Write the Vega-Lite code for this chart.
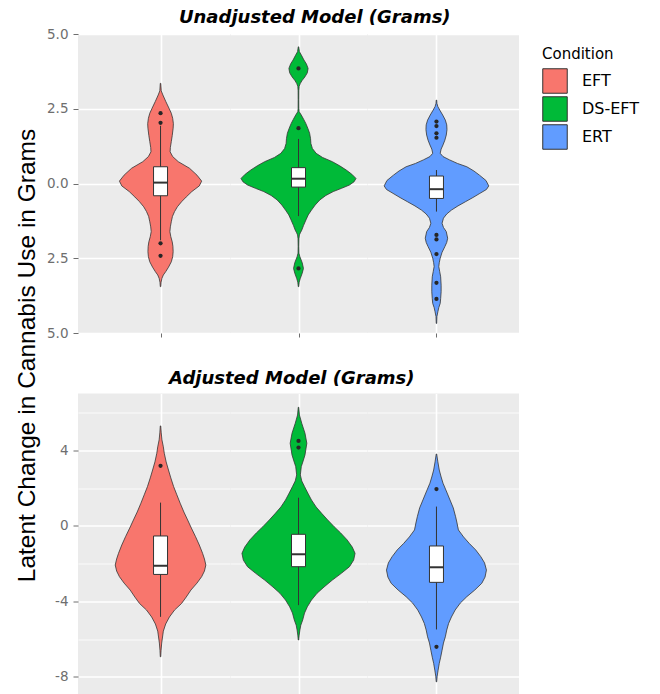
{
  "$schema": "https://vega.github.io/schema/vega-lite/v6.json",
  "background": "white",
  "padding": {"left": 15, "top": 9, "right": 0, "bottom": 0},
  "title": {"text": "Latent Change in Cannabis Use in Grams", "orient": "left", "anchor": "middle", "fontSize": 24.5, "fontWeight": "normal", "fontStyle": "normal", "font": "Liberation Sans", "color": "black", "offset": 6},
  "config": {
    "font": "Liberation Sans",
    "view": {"fill": "#EBEBEB", "stroke": null},
    "axis": {"gridColor": "white", "labelColor": "#6e6e6e", "labelFontSize": 13.5, "labelFont": "DejaVu Sans", "tickColor": "#6e6e6e", "tickSize": 5, "labelPadding": 5, "domain": false},
    "title": {"font": "DejaVu Sans", "fontSize": 18, "fontWeight": "bold", "fontStyle": "italic", "color": "black"},
    "legend": {"symbolType": "square", "symbolSize": 600, "symbolStrokeColor": "#333333", "symbolStrokeWidth": 1, "labelFontSize": 16, "titleFontSize": 15, "titleFontWeight": "normal", "labelFont": "DejaVu Sans", "titleFont": "DejaVu Sans", "labelOffset": 14, "rowPadding": 3, "titlePadding": 6, "labelColor": "black", "titleColor": "black"}
  },
  "datasets": {
    "violin": [
      {"model":"U","condition":"EFT","value":3.35,"density":0.005},
      {"model":"U","condition":"EFT","value":3.10,"density":0.015},
      {"model":"U","condition":"EFT","value":2.96,"density":0.05},
      {"model":"U","condition":"EFT","value":2.75,"density":0.11},
      {"model":"U","condition":"EFT","value":2.52,"density":0.18},
      {"model":"U","condition":"EFT","value":2.35,"density":0.23},
      {"model":"U","condition":"EFT","value":2.18,"density":0.26},
      {"model":"U","condition":"EFT","value":2.00,"density":0.275},
      {"model":"U","condition":"EFT","value":1.85,"density":0.27},
      {"model":"U","condition":"EFT","value":1.60,"density":0.25},
      {"model":"U","condition":"EFT","value":1.40,"density":0.23},
      {"model":"U","condition":"EFT","value":1.20,"density":0.21},
      {"model":"U","condition":"EFT","value":1.06,"density":0.205},
      {"model":"U","condition":"EFT","value":0.90,"density":0.26},
      {"model":"U","condition":"EFT","value":0.73,"density":0.38},
      {"model":"U","condition":"EFT","value":0.51,"density":0.62},
      {"model":"U","condition":"EFT","value":0.28,"density":0.78},
      {"model":"U","condition":"EFT","value":0.08,"density":0.88},
      {"model":"U","condition":"EFT","value":-0.08,"density":0.83},
      {"model":"U","condition":"EFT","value":-0.27,"density":0.67},
      {"model":"U","condition":"EFT","value":-0.45,"density":0.55},
      {"model":"U","condition":"EFT","value":-0.61,"density":0.45},
      {"model":"U","condition":"EFT","value":-0.78,"density":0.36},
      {"model":"U","condition":"EFT","value":-0.94,"density":0.30},
      {"model":"U","condition":"EFT","value":-1.10,"density":0.255},
      {"model":"U","condition":"EFT","value":-1.28,"density":0.23},
      {"model":"U","condition":"EFT","value":-1.45,"density":0.21},
      {"model":"U","condition":"EFT","value":-1.61,"density":0.20},
      {"model":"U","condition":"EFT","value":-1.78,"density":0.22},
      {"model":"U","condition":"EFT","value":-1.95,"density":0.25},
      {"model":"U","condition":"EFT","value":-2.10,"density":0.265},
      {"model":"U","condition":"EFT","value":-2.28,"density":0.27},
      {"model":"U","condition":"EFT","value":-2.45,"density":0.26},
      {"model":"U","condition":"EFT","value":-2.62,"density":0.23},
      {"model":"U","condition":"EFT","value":-2.80,"density":0.17},
      {"model":"U","condition":"EFT","value":-2.95,"density":0.11},
      {"model":"U","condition":"EFT","value":-3.06,"density":0.06},
      {"model":"U","condition":"EFT","value":-3.17,"density":0.03},
      {"model":"U","condition":"EFT","value":-3.30,"density":0.012},
      {"model":"U","condition":"EFT","value":-3.45,"density":0.005},

      {"model":"U","condition":"DS-EFT","value":4.57,"density":0.005},
      {"model":"U","condition":"DS-EFT","value":4.41,"density":0.02},
      {"model":"U","condition":"DS-EFT","value":4.27,"density":0.07},
      {"model":"U","condition":"DS-EFT","value":4.13,"density":0.117},
      {"model":"U","condition":"DS-EFT","value":4.00,"density":0.17},
      {"model":"U","condition":"DS-EFT","value":3.85,"density":0.207},
      {"model":"U","condition":"DS-EFT","value":3.70,"density":0.19},
      {"model":"U","condition":"DS-EFT","value":3.57,"density":0.14},
      {"model":"U","condition":"DS-EFT","value":3.45,"density":0.08},
      {"model":"U","condition":"DS-EFT","value":3.35,"density":0.04},
      {"model":"U","condition":"DS-EFT","value":3.25,"density":0.015},
      {"model":"U","condition":"DS-EFT","value":3.10,"density":0.008},
      {"model":"U","condition":"DS-EFT","value":2.80,"density":0.007},
      {"model":"U","condition":"DS-EFT","value":2.50,"density":0.008},
      {"model":"U","condition":"DS-EFT","value":2.40,"density":0.015},
      {"model":"U","condition":"DS-EFT","value":2.29,"density":0.06},
      {"model":"U","condition":"DS-EFT","value":2.15,"density":0.11},
      {"model":"U","condition":"DS-EFT","value":2.01,"density":0.157},
      {"model":"U","condition":"DS-EFT","value":1.85,"density":0.20},
      {"model":"U","condition":"DS-EFT","value":1.68,"density":0.24},
      {"model":"U","condition":"DS-EFT","value":1.50,"density":0.26},
      {"model":"U","condition":"DS-EFT","value":1.34,"density":0.267},
      {"model":"U","condition":"DS-EFT","value":1.17,"density":0.30},
      {"model":"U","condition":"DS-EFT","value":1.01,"density":0.38},
      {"model":"U","condition":"DS-EFT","value":0.87,"density":0.52},
      {"model":"U","condition":"DS-EFT","value":0.73,"density":0.73},
      {"model":"U","condition":"DS-EFT","value":0.59,"density":0.89},
      {"model":"U","condition":"DS-EFT","value":0.45,"density":1.03},
      {"model":"U","condition":"DS-EFT","value":0.31,"density":1.15},
      {"model":"U","condition":"DS-EFT","value":0.17,"density":1.24},
      {"model":"U","condition":"DS-EFT","value":0.06,"density":1.20},
      {"model":"U","condition":"DS-EFT","value":-0.05,"density":1.10},
      {"model":"U","condition":"DS-EFT","value":-0.16,"density":0.93},
      {"model":"U","condition":"DS-EFT","value":-0.27,"density":0.75},
      {"model":"U","condition":"DS-EFT","value":-0.40,"density":0.59},
      {"model":"U","condition":"DS-EFT","value":-0.55,"density":0.46},
      {"model":"U","condition":"DS-EFT","value":-0.72,"density":0.36},
      {"model":"U","condition":"DS-EFT","value":-0.89,"density":0.28},
      {"model":"U","condition":"DS-EFT","value":-1.05,"density":0.21},
      {"model":"U","condition":"DS-EFT","value":-1.22,"density":0.16},
      {"model":"U","condition":"DS-EFT","value":-1.40,"density":0.11},
      {"model":"U","condition":"DS-EFT","value":-1.56,"density":0.07},
      {"model":"U","condition":"DS-EFT","value":-1.65,"density":0.04},
      {"model":"U","condition":"DS-EFT","value":-1.72,"density":0.02},
      {"model":"U","condition":"DS-EFT","value":-1.85,"density":0.01},
      {"model":"U","condition":"DS-EFT","value":-2.10,"density":0.007},
      {"model":"U","condition":"DS-EFT","value":-2.33,"density":0.01},
      {"model":"U","condition":"DS-EFT","value":-2.45,"density":0.03},
      {"model":"U","condition":"DS-EFT","value":-2.65,"density":0.08},
      {"model":"U","condition":"DS-EFT","value":-2.84,"density":0.107},
      {"model":"U","condition":"DS-EFT","value":-3.00,"density":0.08},
      {"model":"U","condition":"DS-EFT","value":-3.17,"density":0.04},
      {"model":"U","condition":"DS-EFT","value":-3.30,"density":0.015},
      {"model":"U","condition":"DS-EFT","value":-3.45,"density":0.005},

      {"model":"U","condition":"ERT","value":2.79,"density":0.005},
      {"model":"U","condition":"ERT","value":2.68,"density":0.01},
      {"model":"U","condition":"ERT","value":2.57,"density":0.03},
      {"model":"U","condition":"ERT","value":2.43,"density":0.08},
      {"model":"U","condition":"ERT","value":2.29,"density":0.133},
      {"model":"U","condition":"ERT","value":2.12,"density":0.19},
      {"model":"U","condition":"ERT","value":1.96,"density":0.22},
      {"model":"U","condition":"ERT","value":1.80,"density":0.225},
      {"model":"U","condition":"ERT","value":1.62,"density":0.21},
      {"model":"U","condition":"ERT","value":1.45,"density":0.18},
      {"model":"U","condition":"ERT","value":1.29,"density":0.14},
      {"model":"U","condition":"ERT","value":1.15,"density":0.10},
      {"model":"U","condition":"ERT","value":1.01,"density":0.08},
      {"model":"U","condition":"ERT","value":0.90,"density":0.14},
      {"model":"U","condition":"ERT","value":0.79,"density":0.28},
      {"model":"U","condition":"ERT","value":0.67,"density":0.45},
      {"model":"U","condition":"ERT","value":0.56,"density":0.65},
      {"model":"U","condition":"ERT","value":0.42,"density":0.80},
      {"model":"U","condition":"ERT","value":0.28,"density":0.92},
      {"model":"U","condition":"ERT","value":0.10,"density":1.06},
      {"model":"U","condition":"ERT","value":-0.08,"density":1.12},
      {"model":"U","condition":"ERT","value":-0.20,"density":1.07},
      {"model":"U","condition":"ERT","value":-0.33,"density":0.93},
      {"model":"U","condition":"ERT","value":-0.47,"density":0.78},
      {"model":"U","condition":"ERT","value":-0.61,"density":0.62},
      {"model":"U","condition":"ERT","value":-0.75,"density":0.46},
      {"model":"U","condition":"ERT","value":-0.89,"density":0.32},
      {"model":"U","condition":"ERT","value":-1.02,"density":0.22},
      {"model":"U","condition":"ERT","value":-1.16,"density":0.15},
      {"model":"U","condition":"ERT","value":-1.33,"density":0.12},
      {"model":"U","condition":"ERT","value":-1.47,"density":0.15},
      {"model":"U","condition":"ERT","value":-1.61,"density":0.21},
      {"model":"U","condition":"ERT","value":-1.83,"density":0.24},
      {"model":"U","condition":"ERT","value":-1.97,"density":0.22},
      {"model":"U","condition":"ERT","value":-2.11,"density":0.18},
      {"model":"U","condition":"ERT","value":-2.30,"density":0.12},
      {"model":"U","condition":"ERT","value":-2.50,"density":0.08},
      {"model":"U","condition":"ERT","value":-2.65,"density":0.06},
      {"model":"U","condition":"ERT","value":-2.78,"density":0.05},
      {"model":"U","condition":"ERT","value":-2.95,"density":0.07},
      {"model":"U","condition":"ERT","value":-3.12,"density":0.09},
      {"model":"U","condition":"ERT","value":-3.40,"density":0.10},
      {"model":"U","condition":"ERT","value":-3.62,"density":0.10},
      {"model":"U","condition":"ERT","value":-3.85,"density":0.09},
      {"model":"U","condition":"ERT","value":-4.01,"density":0.08},
      {"model":"U","condition":"ERT","value":-4.15,"density":0.05},
      {"model":"U","condition":"ERT","value":-4.29,"density":0.03},
      {"model":"U","condition":"ERT","value":-4.45,"density":0.01},
      {"model":"U","condition":"ERT","value":-4.68,"density":0.005},

      {"model":"A","condition":"EFT","value":5.31,"density":0.005},
      {"model":"A","condition":"EFT","value":4.94,"density":0.015},
      {"model":"A","condition":"EFT","value":4.57,"density":0.03},
      {"model":"A","condition":"EFT","value":4.20,"density":0.06},
      {"model":"A","condition":"EFT","value":3.86,"density":0.08},
      {"model":"A","condition":"EFT","value":3.40,"density":0.12},
      {"model":"A","condition":"EFT","value":2.97,"density":0.17},
      {"model":"A","condition":"EFT","value":2.55,"density":0.22},
      {"model":"A","condition":"EFT","value":2.09,"density":0.28},
      {"model":"A","condition":"EFT","value":1.65,"density":0.35},
      {"model":"A","condition":"EFT","value":1.21,"density":0.42},
      {"model":"A","condition":"EFT","value":0.74,"density":0.50},
      {"model":"A","condition":"EFT","value":0.32,"density":0.58},
      {"model":"A","condition":"EFT","value":-0.11,"density":0.66},
      {"model":"A","condition":"EFT","value":-0.57,"density":0.75},
      {"model":"A","condition":"EFT","value":-1.01,"density":0.83},
      {"model":"A","condition":"EFT","value":-1.45,"density":0.90},
      {"model":"A","condition":"EFT","value":-1.75,"density":0.94},
      {"model":"A","condition":"EFT","value":-2.07,"density":0.97},
      {"model":"A","condition":"EFT","value":-2.39,"density":0.94},
      {"model":"A","condition":"EFT","value":-2.69,"density":0.88},
      {"model":"A","condition":"EFT","value":-3.03,"density":0.78},
      {"model":"A","condition":"EFT","value":-3.40,"density":0.65},
      {"model":"A","condition":"EFT","value":-3.77,"density":0.55},
      {"model":"A","condition":"EFT","value":-4.11,"density":0.45},
      {"model":"A","condition":"EFT","value":-4.46,"density":0.30},
      {"model":"A","condition":"EFT","value":-4.83,"density":0.19},
      {"model":"A","condition":"EFT","value":-5.20,"density":0.11},
      {"model":"A","condition":"EFT","value":-5.58,"density":0.06},
      {"model":"A","condition":"EFT","value":-6.21,"density":0.025},
      {"model":"A","condition":"EFT","value":-6.59,"density":0.012},
      {"model":"A","condition":"EFT","value":-6.94,"density":0.005},

      {"model":"A","condition":"DS-EFT","value":6.30,"density":0.005},
      {"model":"A","condition":"DS-EFT","value":5.89,"density":0.02},
      {"model":"A","condition":"DS-EFT","value":5.45,"density":0.07},
      {"model":"A","condition":"DS-EFT","value":4.92,"density":0.14},
      {"model":"A","condition":"DS-EFT","value":4.39,"density":0.18},
      {"model":"A","condition":"DS-EFT","value":3.77,"density":0.14},
      {"model":"A","condition":"DS-EFT","value":3.45,"density":0.10},
      {"model":"A","condition":"DS-EFT","value":3.15,"density":0.06},
      {"model":"A","condition":"DS-EFT","value":2.71,"density":0.04},
      {"model":"A","condition":"DS-EFT","value":2.39,"density":0.07},
      {"model":"A","condition":"DS-EFT","value":2.09,"density":0.13},
      {"model":"A","condition":"DS-EFT","value":1.75,"density":0.20},
      {"model":"A","condition":"DS-EFT","value":1.38,"density":0.28},
      {"model":"A","condition":"DS-EFT","value":1.01,"density":0.38},
      {"model":"A","condition":"DS-EFT","value":0.67,"density":0.50},
      {"model":"A","condition":"DS-EFT","value":0.32,"density":0.63},
      {"model":"A","condition":"DS-EFT","value":-0.04,"density":0.77},
      {"model":"A","condition":"DS-EFT","value":-0.37,"density":0.91},
      {"model":"A","condition":"DS-EFT","value":-0.74,"density":1.05},
      {"model":"A","condition":"DS-EFT","value":-1.12,"density":1.16},
      {"model":"A","condition":"DS-EFT","value":-1.45,"density":1.22},
      {"model":"A","condition":"DS-EFT","value":-1.81,"density":1.19},
      {"model":"A","condition":"DS-EFT","value":-2.16,"density":1.10},
      {"model":"A","condition":"DS-EFT","value":-2.50,"density":0.93},
      {"model":"A","condition":"DS-EFT","value":-2.87,"density":0.73},
      {"model":"A","condition":"DS-EFT","value":-3.24,"density":0.55},
      {"model":"A","condition":"DS-EFT","value":-3.57,"density":0.40},
      {"model":"A","condition":"DS-EFT","value":-3.93,"density":0.28},
      {"model":"A","condition":"DS-EFT","value":-4.29,"density":0.19},
      {"model":"A","condition":"DS-EFT","value":-4.62,"density":0.13},
      {"model":"A","condition":"DS-EFT","value":-4.99,"density":0.09},
      {"model":"A","condition":"DS-EFT","value":-5.26,"density":0.05},
      {"model":"A","condition":"DS-EFT","value":-5.52,"density":0.03},
      {"model":"A","condition":"DS-EFT","value":-5.79,"density":0.015},
      {"model":"A","condition":"DS-EFT","value":-6.05,"density":0.005},

      {"model":"A","condition":"ERT","value":3.82,"density":0.005},
      {"model":"A","condition":"ERT","value":3.40,"density":0.03},
      {"model":"A","condition":"ERT","value":2.97,"density":0.06},
      {"model":"A","condition":"ERT","value":2.60,"density":0.10},
      {"model":"A","condition":"ERT","value":2.27,"density":0.14},
      {"model":"A","condition":"ERT","value":1.86,"density":0.21},
      {"model":"A","condition":"ERT","value":1.38,"density":0.29},
      {"model":"A","condition":"ERT","value":0.96,"density":0.36},
      {"model":"A","condition":"ERT","value":0.49,"density":0.41},
      {"model":"A","condition":"ERT","value":0.16,"density":0.44},
      {"model":"A","condition":"ERT","value":-0.21,"density":0.47},
      {"model":"A","condition":"ERT","value":-0.58,"density":0.58},
      {"model":"A","condition":"ERT","value":-0.92,"density":0.70},
      {"model":"A","condition":"ERT","value":-1.27,"density":0.84},
      {"model":"A","condition":"ERT","value":-1.63,"density":0.95},
      {"model":"A","condition":"ERT","value":-1.96,"density":1.03},
      {"model":"A","condition":"ERT","value":-2.34,"density":1.07},
      {"model":"A","condition":"ERT","value":-2.71,"density":1.04},
      {"model":"A","condition":"ERT","value":-3.04,"density":0.97},
      {"model":"A","condition":"ERT","value":-3.40,"density":0.82},
      {"model":"A","condition":"ERT","value":-3.75,"density":0.65},
      {"model":"A","condition":"ERT","value":-4.09,"density":0.51},
      {"model":"A","condition":"ERT","value":-4.46,"density":0.40},
      {"model":"A","condition":"ERT","value":-4.83,"density":0.32},
      {"model":"A","condition":"ERT","value":-5.17,"density":0.26},
      {"model":"A","condition":"ERT","value":-5.52,"density":0.22},
      {"model":"A","condition":"ERT","value":-5.88,"density":0.19},
      {"model":"A","condition":"ERT","value":-6.21,"density":0.15},
      {"model":"A","condition":"ERT","value":-6.59,"density":0.12},
      {"model":"A","condition":"ERT","value":-6.96,"density":0.09},
      {"model":"A","condition":"ERT","value":-7.29,"density":0.06},
      {"model":"A","condition":"ERT","value":-7.65,"density":0.035},
      {"model":"A","condition":"ERT","value":-7.97,"density":0.015},
      {"model":"A","condition":"ERT","value":-8.27,"density":0.005}
    ],
    "box": [
      {"model":"U","condition":"EFT","lo":-1.9,"q1":-0.41,"median":0.03,"q3":0.56,"hi":1.93},
      {"model":"U","condition":"DS-EFT","lo":-1.09,"q1":-0.12,"median":0.16,"q3":0.53,"hi":1.49},
      {"model":"U","condition":"ERT","lo":-0.94,"q1":-0.5,"median":-0.19,"q3":0.25,"hi":0.45},
      {"model":"A","condition":"EFT","lo":-4.82,"q1":-2.57,"median":-2.11,"q3":-0.53,"hi":1.24},
      {"model":"A","condition":"DS-EFT","lo":-4.2,"q1":-2.16,"median":-1.5,"q3":-0.44,"hi":1.5},
      {"model":"A","condition":"ERT","lo":-5.49,"q1":-2.99,"median":-2.19,"q3":-1.06,"hi":1.03}
    ],
    "outliers": [
      {"model":"U","condition":"EFT","value":2.35},
      {"model":"U","condition":"EFT","value":2.03},
      {"model":"U","condition":"EFT","value":-2.0},
      {"model":"U","condition":"EFT","value":-2.42},
      {"model":"U","condition":"DS-EFT","value":3.85},
      {"model":"U","condition":"DS-EFT","value":1.85},
      {"model":"U","condition":"DS-EFT","value":-2.84},
      {"model":"U","condition":"ERT","value":2.07},
      {"model":"U","condition":"ERT","value":1.92},
      {"model":"U","condition":"ERT","value":1.68},
      {"model":"U","condition":"ERT","value":1.53},
      {"model":"U","condition":"ERT","value":-1.72},
      {"model":"U","condition":"ERT","value":-1.87},
      {"model":"U","condition":"ERT","value":-2.36},
      {"model":"U","condition":"ERT","value":-3.32},
      {"model":"U","condition":"ERT","value":-3.86},
      {"model":"A","condition":"EFT","value":3.19},
      {"model":"A","condition":"DS-EFT","value":4.51},
      {"model":"A","condition":"DS-EFT","value":4.16},
      {"model":"A","condition":"ERT","value":1.96},
      {"model":"A","condition":"ERT","value":-6.41}
    ]
  },
  "vconcat": [
    {
      "title": {"text": "Unadjusted Model (Grams)", "anchor": "middle", "dx": 32, "offset": 0},
      "spacing": 0,
      "bounds": "flush",
      "hconcat": [
        {
          "width": 152, "height": 299,
          "layer": [
            {"data": {"name": "violin"}, "transform": [{"filter": "datum.model === 'U' && datum.condition === 'EFT'"}],
             "mark": {"type": "area", "orient": "horizontal", "stroke": "#333333", "strokeWidth": 0.8, "opacity": 1},
             "encoding": {
               "y": {"field": "value", "type": "quantitative", "title": null, "scale": {"domain": [-5, 5], "nice": false, "zero": false},
                     "axis": {"values": [-5, -3.75, -2.5, -1.25, 0, 1.25, 2.5, 3.75, 5], "labelExpr": "datum.value % 2.5 === 0 ? format(abs(datum.value), '.1f') : ''", "gridWidth": {"condition": {"test": "datum.value % 2.5 === 0", "value": 1.6}, "value": 0.8}, "tickOpacity": {"condition": {"test": "datum.value % 2.5 === 0", "value": 1}, "value": 0}, "title": null}},
               "x": {"field": "density", "type": "quantitative", "stack": "center", "impute": null, "title": null, "scale": {"domain": [-0.39, 1.13], "nice": false, "zero": false},
                     "axis": {"values": [0.44], "labels": false, "grid": true, "gridWidth": 1.6, "tickSize": 4, "title": null}},
               "color": {"field": "condition", "type": "nominal", "title": "Condition", "scale": {"domain": ["EFT", "DS-EFT", "ERT"], "range": ["#F8766D", "#00BA38", "#619CFF"]}, "legend": {"orient": "none", "legendX": 464, "legendY": 13, "rowPadding": -2}}
             }},
            {"data": {"name": "box"}, "transform": [{"filter": "datum.model === 'U' && datum.condition === 'EFT'"}],
             "mark": {"type": "rule", "color": "#333333", "strokeWidth": 1},
             "encoding": {"x": {"datum": 0.44, "type": "quantitative", "title": null, "scale": {"domain": [-0.39, 1.13], "nice": false, "zero": false}}, "y": {"field": "lo", "type": "quantitative", "title": null, "scale": {"domain": [-5, 5], "nice": false, "zero": false}}, "y2": {"field": "hi"}}},
            {"data": {"name": "box"}, "transform": [{"filter": "datum.model === 'U' && datum.condition === 'EFT'"}],
             "mark": {"type": "bar", "fill": "white", "stroke": "#333333", "strokeWidth": 1, "size": 14},
             "encoding": {"x": {"datum": 0.44, "type": "quantitative", "title": null, "scale": {"domain": [-0.39, 1.13], "nice": false, "zero": false}}, "y": {"field": "q1", "type": "quantitative", "title": null, "scale": {"domain": [-5, 5], "nice": false, "zero": false}}, "y2": {"field": "q3"}}},
            {"data": {"name": "box"}, "transform": [{"filter": "datum.model === 'U' && datum.condition === 'EFT'"}],
             "mark": {"type": "tick", "orient": "horizontal", "color": "#333333", "size": 14, "thickness": 2, "opacity": 1},
             "encoding": {"x": {"datum": 0.44, "type": "quantitative", "title": null, "scale": {"domain": [-0.39, 1.13], "nice": false, "zero": false}}, "y": {"field": "median", "type": "quantitative", "title": null, "scale": {"domain": [-5, 5], "nice": false, "zero": false}}}},
            {"data": {"name": "outliers"}, "transform": [{"filter": "datum.model === 'U' && datum.condition === 'EFT'"}],
             "mark": {"type": "circle", "color": "#262626", "size": 18, "opacity": 1},
             "encoding": {"x": {"datum": 0.44, "type": "quantitative", "title": null, "scale": {"domain": [-0.39, 1.13], "nice": false, "zero": false}}, "y": {"field": "value", "type": "quantitative", "title": null, "scale": {"domain": [-5, 5], "nice": false, "zero": false}}}}
          ]
        },
        {
          "width": 137, "height": 299,
          "layer": [
            {"data": {"name": "violin"}, "transform": [{"filter": "datum.model === 'U' && datum.condition === 'DS-EFT'"}],
             "mark": {"type": "area", "orient": "horizontal", "stroke": "#333333", "strokeWidth": 0.8, "opacity": 1},
             "encoding": {
               "y": {"field": "value", "type": "quantitative", "title": null, "scale": {"domain": [-5, 5], "nice": false, "zero": false},
                     "axis": {"values": [-5, -3.75, -2.5, -1.25, 0, 1.25, 2.5, 3.75, 5], "labels": false, "ticks": false, "gridWidth": {"condition": {"test": "datum.value % 2.5 === 0", "value": 1.6}, "value": 0.8}, "title": null}},
               "x": {"field": "density", "type": "quantitative", "stack": "center", "impute": null, "title": null, "scale": {"domain": [-0.065, 1.305], "nice": false, "zero": false},
                     "axis": {"values": [0.62], "labels": false, "grid": true, "gridWidth": 1.6, "tickSize": 4, "title": null}},
               "color": {"field": "condition", "type": "nominal", "title": "Condition", "scale": {"domain": ["EFT", "DS-EFT", "ERT"], "range": ["#F8766D", "#00BA38", "#619CFF"]}, "legend": {"orient": "none", "legendX": 464, "legendY": 13, "rowPadding": -2}}
             }},
            {"data": {"name": "box"}, "transform": [{"filter": "datum.model === 'U' && datum.condition === 'DS-EFT'"}],
             "mark": {"type": "rule", "color": "#333333", "strokeWidth": 1},
             "encoding": {"x": {"datum": 0.62, "type": "quantitative", "title": null, "scale": {"domain": [-0.065, 1.305], "nice": false, "zero": false}}, "y": {"field": "lo", "type": "quantitative", "title": null, "scale": {"domain": [-5, 5], "nice": false, "zero": false}}, "y2": {"field": "hi"}}},
            {"data": {"name": "box"}, "transform": [{"filter": "datum.model === 'U' && datum.condition === 'DS-EFT'"}],
             "mark": {"type": "bar", "fill": "white", "stroke": "#333333", "strokeWidth": 1, "size": 14},
             "encoding": {"x": {"datum": 0.62, "type": "quantitative", "title": null, "scale": {"domain": [-0.065, 1.305], "nice": false, "zero": false}}, "y": {"field": "q1", "type": "quantitative", "title": null, "scale": {"domain": [-5, 5], "nice": false, "zero": false}}, "y2": {"field": "q3"}}},
            {"data": {"name": "box"}, "transform": [{"filter": "datum.model === 'U' && datum.condition === 'DS-EFT'"}],
             "mark": {"type": "tick", "orient": "horizontal", "color": "#333333", "size": 14, "thickness": 2, "opacity": 1},
             "encoding": {"x": {"datum": 0.62, "type": "quantitative", "title": null, "scale": {"domain": [-0.065, 1.305], "nice": false, "zero": false}}, "y": {"field": "median", "type": "quantitative", "title": null, "scale": {"domain": [-5, 5], "nice": false, "zero": false}}}},
            {"data": {"name": "outliers"}, "transform": [{"filter": "datum.model === 'U' && datum.condition === 'DS-EFT'"}],
             "mark": {"type": "circle", "color": "#262626", "size": 18, "opacity": 1},
             "encoding": {"x": {"datum": 0.62, "type": "quantitative", "title": null, "scale": {"domain": [-0.065, 1.305], "nice": false, "zero": false}}, "y": {"field": "value", "type": "quantitative", "title": null, "scale": {"domain": [-5, 5], "nice": false, "zero": false}}}}
          ]
        },
        {
          "width": 152, "height": 299,
          "layer": [
            {"data": {"name": "violin"}, "transform": [{"filter": "datum.model === 'U' && datum.condition === 'ERT'"}],
             "mark": {"type": "area", "orient": "horizontal", "stroke": "#333333", "strokeWidth": 0.8, "opacity": 1},
             "encoding": {
               "y": {"field": "value", "type": "quantitative", "title": null, "scale": {"domain": [-5, 5], "nice": false, "zero": false},
                     "axis": {"values": [-5, -3.75, -2.5, -1.25, 0, 1.25, 2.5, 3.75, 5], "labels": false, "ticks": false, "gridWidth": {"condition": {"test": "datum.value % 2.5 === 0", "value": 1.6}, "value": 0.8}, "title": null}},
               "x": {"field": "density", "type": "quantitative", "stack": "center", "impute": null, "title": null, "scale": {"domain": [-0.13, 1.39], "nice": false, "zero": false},
                     "axis": {"values": [0.56], "labels": false, "grid": true, "gridWidth": 1.6, "tickSize": 4, "title": null}},
               "color": {"field": "condition", "type": "nominal", "title": "Condition", "scale": {"domain": ["EFT", "DS-EFT", "ERT"], "range": ["#F8766D", "#00BA38", "#619CFF"]}, "legend": {"orient": "none", "legendX": 464, "legendY": 13, "rowPadding": -2}}
             }},
            {"data": {"name": "box"}, "transform": [{"filter": "datum.model === 'U' && datum.condition === 'ERT'"}],
             "mark": {"type": "rule", "color": "#333333", "strokeWidth": 1},
             "encoding": {"x": {"datum": 0.56, "type": "quantitative", "title": null, "scale": {"domain": [-0.13, 1.39], "nice": false, "zero": false}}, "y": {"field": "lo", "type": "quantitative", "title": null, "scale": {"domain": [-5, 5], "nice": false, "zero": false}}, "y2": {"field": "hi"}}},
            {"data": {"name": "box"}, "transform": [{"filter": "datum.model === 'U' && datum.condition === 'ERT'"}],
             "mark": {"type": "bar", "fill": "white", "stroke": "#333333", "strokeWidth": 1, "size": 14},
             "encoding": {"x": {"datum": 0.56, "type": "quantitative", "title": null, "scale": {"domain": [-0.13, 1.39], "nice": false, "zero": false}}, "y": {"field": "q1", "type": "quantitative", "title": null, "scale": {"domain": [-5, 5], "nice": false, "zero": false}}, "y2": {"field": "q3"}}},
            {"data": {"name": "box"}, "transform": [{"filter": "datum.model === 'U' && datum.condition === 'ERT'"}],
             "mark": {"type": "tick", "orient": "horizontal", "color": "#333333", "size": 14, "thickness": 2, "opacity": 1},
             "encoding": {"x": {"datum": 0.56, "type": "quantitative", "title": null, "scale": {"domain": [-0.13, 1.39], "nice": false, "zero": false}}, "y": {"field": "median", "type": "quantitative", "title": null, "scale": {"domain": [-5, 5], "nice": false, "zero": false}}}},
            {"data": {"name": "outliers"}, "transform": [{"filter": "datum.model === 'U' && datum.condition === 'ERT'"}],
             "mark": {"type": "circle", "color": "#262626", "size": 18, "opacity": 1},
             "encoding": {"x": {"datum": 0.56, "type": "quantitative", "title": null, "scale": {"domain": [-0.13, 1.39], "nice": false, "zero": false}}, "y": {"field": "value", "type": "quantitative", "title": null, "scale": {"domain": [-5, 5], "nice": false, "zero": false}}}}
          ]
        }
      ]
    },
    {
      "title": {"text": "Adjusted Model (Grams)", "anchor": "middle", "dx": 5, "offset": 6},
      "spacing": 0,
      "bounds": "flush",
      "hconcat": [
        {
          "width": 152, "height": 304,
          "layer": [
            {"data": {"name": "violin"}, "transform": [{"filter": "datum.model === 'A' && datum.condition === 'EFT'"}],
             "mark": {"type": "area", "orient": "horizontal", "stroke": "#333333", "strokeWidth": 0.8, "opacity": 1},
             "encoding": {
               "y": {"field": "value", "type": "quantitative", "title": null, "scale": {"domain": [-9.1, 7.03], "nice": false, "zero": false},
                     "axis": {"values": [-8, -6, -4, -2, 0, 2, 4, 6], "labelExpr": "datum.value % 4 === 0 ? '' + datum.value : ''", "gridWidth": {"condition": {"test": "datum.value % 4 === 0", "value": 1.6}, "value": 0.8}, "tickOpacity": {"condition": {"test": "datum.value % 4 === 0", "value": 1}, "value": 0}, "title": null}},
               "x": {"field": "density", "type": "quantitative", "stack": "center", "impute": null, "title": null, "scale": {"domain": [-0.345, 1.175], "nice": false, "zero": false},
                     "axis": {"values": [0.485], "labels": false, "grid": true, "gridWidth": 1.6, "tickSize": 4, "title": null}},
               "color": {"field": "condition", "type": "nominal", "title": "Condition", "scale": {"domain": ["EFT", "DS-EFT", "ERT"], "range": ["#F8766D", "#00BA38", "#619CFF"]}, "legend": {"orient": "none", "legendX": 464, "legendY": 13, "rowPadding": -2}}
             }},
            {"data": {"name": "box"}, "transform": [{"filter": "datum.model === 'A' && datum.condition === 'EFT'"}],
             "mark": {"type": "rule", "color": "#333333", "strokeWidth": 1},
             "encoding": {"x": {"datum": 0.485, "type": "quantitative", "title": null, "scale": {"domain": [-0.345, 1.175], "nice": false, "zero": false}}, "y": {"field": "lo", "type": "quantitative", "title": null, "scale": {"domain": [-9.1, 7.03], "nice": false, "zero": false}}, "y2": {"field": "hi"}}},
            {"data": {"name": "box"}, "transform": [{"filter": "datum.model === 'A' && datum.condition === 'EFT'"}],
             "mark": {"type": "bar", "fill": "white", "stroke": "#333333", "strokeWidth": 1, "size": 14},
             "encoding": {"x": {"datum": 0.485, "type": "quantitative", "title": null, "scale": {"domain": [-0.345, 1.175], "nice": false, "zero": false}}, "y": {"field": "q1", "type": "quantitative", "title": null, "scale": {"domain": [-9.1, 7.03], "nice": false, "zero": false}}, "y2": {"field": "q3"}}},
            {"data": {"name": "box"}, "transform": [{"filter": "datum.model === 'A' && datum.condition === 'EFT'"}],
             "mark": {"type": "tick", "orient": "horizontal", "color": "#333333", "size": 14, "thickness": 2, "opacity": 1},
             "encoding": {"x": {"datum": 0.485, "type": "quantitative", "title": null, "scale": {"domain": [-0.345, 1.175], "nice": false, "zero": false}}, "y": {"field": "median", "type": "quantitative", "title": null, "scale": {"domain": [-9.1, 7.03], "nice": false, "zero": false}}}},
            {"data": {"name": "outliers"}, "transform": [{"filter": "datum.model === 'A' && datum.condition === 'EFT'"}],
             "mark": {"type": "circle", "color": "#262626", "size": 18, "opacity": 1},
             "encoding": {"x": {"datum": 0.485, "type": "quantitative", "title": null, "scale": {"domain": [-0.345, 1.175], "nice": false, "zero": false}}, "y": {"field": "value", "type": "quantitative", "title": null, "scale": {"domain": [-9.1, 7.03], "nice": false, "zero": false}}}}
          ]
        },
        {
          "width": 137, "height": 304,
          "layer": [
            {"data": {"name": "violin"}, "transform": [{"filter": "datum.model === 'A' && datum.condition === 'DS-EFT'"}],
             "mark": {"type": "area", "orient": "horizontal", "stroke": "#333333", "strokeWidth": 0.8, "opacity": 1},
             "encoding": {
               "y": {"field": "value", "type": "quantitative", "title": null, "scale": {"domain": [-9.1, 7.03], "nice": false, "zero": false},
                     "axis": {"values": [-8, -6, -4, -2, 0, 2, 4, 6], "labels": false, "ticks": false, "gridWidth": {"condition": {"test": "datum.value % 4 === 0", "value": 1.6}, "value": 0.8}, "title": null}},
               "x": {"field": "density", "type": "quantitative", "stack": "center", "impute": null, "title": null, "scale": {"domain": [-0.075, 1.295], "nice": false, "zero": false},
                     "axis": {"values": [0.61], "labels": false, "grid": true, "gridWidth": 1.6, "tickSize": 4, "title": null}},
               "color": {"field": "condition", "type": "nominal", "title": "Condition", "scale": {"domain": ["EFT", "DS-EFT", "ERT"], "range": ["#F8766D", "#00BA38", "#619CFF"]}, "legend": {"orient": "none", "legendX": 464, "legendY": 13, "rowPadding": -2}}
             }},
            {"data": {"name": "box"}, "transform": [{"filter": "datum.model === 'A' && datum.condition === 'DS-EFT'"}],
             "mark": {"type": "rule", "color": "#333333", "strokeWidth": 1},
             "encoding": {"x": {"datum": 0.61, "type": "quantitative", "title": null, "scale": {"domain": [-0.075, 1.295], "nice": false, "zero": false}}, "y": {"field": "lo", "type": "quantitative", "title": null, "scale": {"domain": [-9.1, 7.03], "nice": false, "zero": false}}, "y2": {"field": "hi"}}},
            {"data": {"name": "box"}, "transform": [{"filter": "datum.model === 'A' && datum.condition === 'DS-EFT'"}],
             "mark": {"type": "bar", "fill": "white", "stroke": "#333333", "strokeWidth": 1, "size": 14},
             "encoding": {"x": {"datum": 0.61, "type": "quantitative", "title": null, "scale": {"domain": [-0.075, 1.295], "nice": false, "zero": false}}, "y": {"field": "q1", "type": "quantitative", "title": null, "scale": {"domain": [-9.1, 7.03], "nice": false, "zero": false}}, "y2": {"field": "q3"}}},
            {"data": {"name": "box"}, "transform": [{"filter": "datum.model === 'A' && datum.condition === 'DS-EFT'"}],
             "mark": {"type": "tick", "orient": "horizontal", "color": "#333333", "size": 14, "thickness": 2, "opacity": 1},
             "encoding": {"x": {"datum": 0.61, "type": "quantitative", "title": null, "scale": {"domain": [-0.075, 1.295], "nice": false, "zero": false}}, "y": {"field": "median", "type": "quantitative", "title": null, "scale": {"domain": [-9.1, 7.03], "nice": false, "zero": false}}}},
            {"data": {"name": "outliers"}, "transform": [{"filter": "datum.model === 'A' && datum.condition === 'DS-EFT'"}],
             "mark": {"type": "circle", "color": "#262626", "size": 18, "opacity": 1},
             "encoding": {"x": {"datum": 0.61, "type": "quantitative", "title": null, "scale": {"domain": [-0.075, 1.295], "nice": false, "zero": false}}, "y": {"field": "value", "type": "quantitative", "title": null, "scale": {"domain": [-9.1, 7.03], "nice": false, "zero": false}}}}
          ]
        },
        {
          "width": 152, "height": 304,
          "layer": [
            {"data": {"name": "violin"}, "transform": [{"filter": "datum.model === 'A' && datum.condition === 'ERT'"}],
             "mark": {"type": "area", "orient": "horizontal", "stroke": "#333333", "strokeWidth": 0.8, "opacity": 1},
             "encoding": {
               "y": {"field": "value", "type": "quantitative", "title": null, "scale": {"domain": [-9.1, 7.03], "nice": false, "zero": false},
                     "axis": {"values": [-8, -6, -4, -2, 0, 2, 4, 6], "labels": false, "ticks": false, "gridWidth": {"condition": {"test": "datum.value % 4 === 0", "value": 1.6}, "value": 0.8}, "title": null}},
               "x": {"field": "density", "type": "quantitative", "stack": "center", "impute": null, "title": null, "scale": {"domain": [-0.155, 1.365], "nice": false, "zero": false},
                     "axis": {"values": [0.535], "labels": false, "grid": true, "gridWidth": 1.6, "tickSize": 4, "title": null}},
               "color": {"field": "condition", "type": "nominal", "title": "Condition", "scale": {"domain": ["EFT", "DS-EFT", "ERT"], "range": ["#F8766D", "#00BA38", "#619CFF"]}, "legend": {"orient": "none", "legendX": 464, "legendY": 13, "rowPadding": -2}}
             }},
            {"data": {"name": "box"}, "transform": [{"filter": "datum.model === 'A' && datum.condition === 'ERT'"}],
             "mark": {"type": "rule", "color": "#333333", "strokeWidth": 1},
             "encoding": {"x": {"datum": 0.535, "type": "quantitative", "title": null, "scale": {"domain": [-0.155, 1.365], "nice": false, "zero": false}}, "y": {"field": "lo", "type": "quantitative", "title": null, "scale": {"domain": [-9.1, 7.03], "nice": false, "zero": false}}, "y2": {"field": "hi"}}},
            {"data": {"name": "box"}, "transform": [{"filter": "datum.model === 'A' && datum.condition === 'ERT'"}],
             "mark": {"type": "bar", "fill": "white", "stroke": "#333333", "strokeWidth": 1, "size": 14},
             "encoding": {"x": {"datum": 0.535, "type": "quantitative", "title": null, "scale": {"domain": [-0.155, 1.365], "nice": false, "zero": false}}, "y": {"field": "q1", "type": "quantitative", "title": null, "scale": {"domain": [-9.1, 7.03], "nice": false, "zero": false}}, "y2": {"field": "q3"}}},
            {"data": {"name": "box"}, "transform": [{"filter": "datum.model === 'A' && datum.condition === 'ERT'"}],
             "mark": {"type": "tick", "orient": "horizontal", "color": "#333333", "size": 14, "thickness": 2, "opacity": 1},
             "encoding": {"x": {"datum": 0.535, "type": "quantitative", "title": null, "scale": {"domain": [-0.155, 1.365], "nice": false, "zero": false}}, "y": {"field": "median", "type": "quantitative", "title": null, "scale": {"domain": [-9.1, 7.03], "nice": false, "zero": false}}}},
            {"data": {"name": "outliers"}, "transform": [{"filter": "datum.model === 'A' && datum.condition === 'ERT'"}],
             "mark": {"type": "circle", "color": "#262626", "size": 18, "opacity": 1},
             "encoding": {"x": {"datum": 0.535, "type": "quantitative", "title": null, "scale": {"domain": [-0.155, 1.365], "nice": false, "zero": false}}, "y": {"field": "value", "type": "quantitative", "title": null, "scale": {"domain": [-9.1, 7.03], "nice": false, "zero": false}}}}
          ]
        }
      ]
    }
  ],
  "spacing": 29.5
}
